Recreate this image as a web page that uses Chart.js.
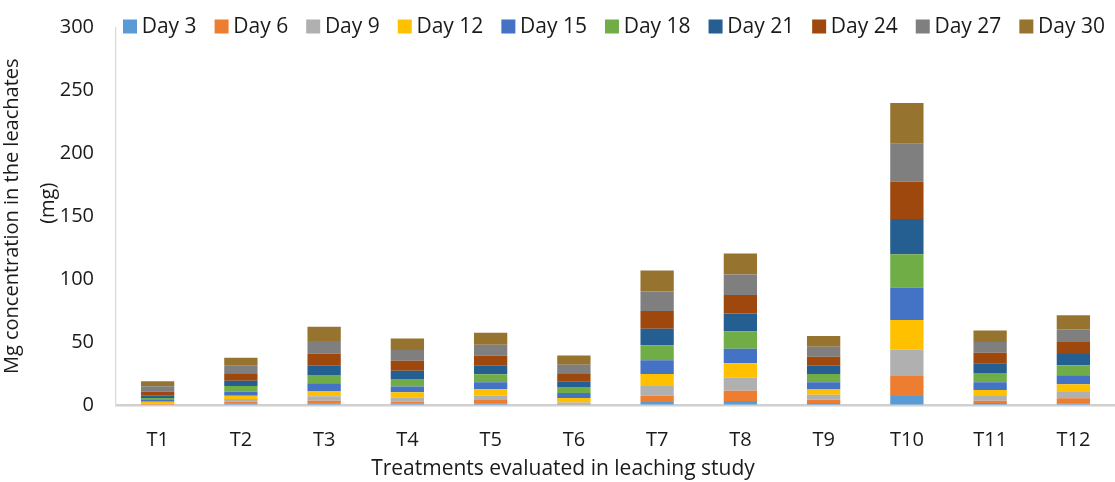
<!DOCTYPE html>
<html>
<head>
<meta charset="utf-8">
<script src="https://cdn.jsdelivr.net/npm/chart.js@4"></script>
<style>
  html, body { margin: 0; padding: 0; background: #fff; }
  #wrap { width: 1115px; height: 482px; }
</style>
</head>
<body>
<div id="wrap"><canvas id="canvas" width="1115" height="482"></canvas></div>
<script>
// data (mg per sampling day)
var treatments = ["T1", "T2", "T3", "T4", "T5", "T6", "T7", "T8", "T9", "T10", "T11", "T12"];
var dayLabels = ["Day 3", "Day 6", "Day 9", "Day 12", "Day 15", "Day 18", "Day 21", "Day 24", "Day 27", "Day 30"];

var day3  = [0.4, 1.3, 1.3, 1.0, 1.3, 0.5, 2.4, 3.2, 1.6, 7.1, 1.6, 1.3];
var day6  = [0.5, 1.3, 2.1, 1.6, 2.7, 0.6, 5.0, 8.1, 2.6, 15.9, 1.8, 4.0];
var day9  = [0.5, 2.2, 3.5, 3.2, 3.4, 0.8, 7.7, 10.4, 4.0, 21.2, 3.7, 5.0];
var day12 = [1.2, 2.6, 4.2, 4.3, 5.1, 3.7, 9.5, 11.4, 4.5, 23.3, 4.8, 6.1];
var day15 = [1.3, 3.2, 6.1, 4.7, 5.5, 4.0, 10.9, 11.6, 5.3, 25.9, 6.1, 7.2];
var day18 = [1.7, 4.5, 6.6, 5.8, 6.4, 4.8, 11.9, 14.0, 6.6, 26.4, 7.4, 7.9];
var day21 = [1.8, 4.2, 7.4, 6.6, 6.8, 4.5, 13.2, 14.1, 6.6, 28.1, 7.7, 9.0];
var day24 = [3.3, 5.9, 9.8, 8.0, 7.9, 6.4, 14.2, 14.7, 7.1, 29.6, 8.4, 9.5];
var day27 = [4.2, 6.0, 9.8, 8.5, 8.8, 6.6, 15.4, 16.2, 8.0, 30.2, 8.5, 10.1];
var day30 = [4.0, 6.3, 11.3, 9.2, 9.5, 7.4, 16.7, 16.7, 8.5, 32.3, 9.3, 11.3];

var yTicks = [0, 50, 100, 150, 200, 250, 300];

var seriesValues = [day3, day6, day9, day12, day15, day18, day21, day24, day27, day30];
var seriesColors = ['#5B9BD5', '#ED7D31', '#B0B0B0', '#FFC000', '#4472C4',
                    '#70AD47', '#255E91', '#9E480E', '#7F7F7F', '#967430'];

var FONT = "'Open Sans', sans-serif";
var TEXT = '#1a1a1a';

// legend drawn on top of the plot area, like the original
var topLegend = {
    id: 'topLegend',
    afterDraw: function (chart) {
        var ctx = chart.ctx;
        var x = 123, y = 26.5, box = 14;
        ctx.save();
        ctx.font = '21px ' + FONT;
        ctx.textBaseline = 'middle';
        ctx.textAlign = 'left';
        chart.data.datasets.forEach(function (ds) {
            ctx.fillStyle = ds.backgroundColor;
            ctx.fillRect(x, y - box / 2, box, box);
            ctx.fillStyle = TEXT;
            ctx.fillText(ds.label, x + box + 4.7, y + 1);
            x += box + 4.7 + ctx.measureText(ds.label).width + 18;
        });
        ctx.restore();
    }
};

document.addEventListener('DOMContentLoaded', function () {
    var canvas = document.getElementById('canvas');

    var datasets = dayLabels.map(function (lbl, i) {
        return {
            label: lbl,
            data: seriesValues[i],
            backgroundColor: seriesColors[i],
            borderWidth: 0,
            barPercentage: 0.4,
            categoryPercentage: 1.0
        };
    });

    var config = {
        type: 'bar',
        data: {
            labels: treatments,
            datasets: datasets
        },
        options: {
            responsive: false,
            animation: false,
            layout: {
                padding: { top: 27.5, left: 0, right: 0, bottom: 0 }
            },
            plugins: {
                legend: { display: false },
                tooltip: { enabled: false },
                title: {
                    display: true,
                    position: 'bottom',
                    text: '  Treatments evaluated in leaching study',
                    color: TEXT,
                    font: { family: FONT, size: 21, weight: 'normal', lineHeight: 1.2 },
                    padding: { top: 4.8, bottom: 0 }
                }
            },
            scales: {
                x: {
                    stacked: true,
                    grid: { drawOnChartArea: false, drawTicks: false },
                    border: { display: true, color: '#d0d0d0', width: 2.5 },
                    afterFit: function (scale) { scale.height = 47; },
                    ticks: {
                        color: TEXT,
                        padding: 23,
                        font: { family: FONT, size: 20, lineHeight: 1.2 }
                    }
                },
                y: {
                    stacked: true,
                    min: 0,
                    max: 300,
                    grid: { drawOnChartArea: false, drawTicks: false },
                    border: { display: true, color: '#d9d9d9', width: 1.3 },
                    afterFit: function (scale) {
                        scale.width = 116;
                        scale.paddingTop = 0;
                        scale.paddingBottom = 0;
                    },
                    afterBuildTicks: function (scale) {
                        scale.ticks = yTicks.map(function (v) { return { value: v }; });
                    },
                    ticks: {
                        color: TEXT,
                        padding: 22,
                        font: { family: FONT, size: 20, lineHeight: 1.2 }
                    },
                    title: {
                        display: true,
                        text: ['Mg concentration in the leachates', '     (mg)'],
                        color: TEXT,
                        font: { family: FONT, size: 20, lineHeight: 1.8 },
                        padding: { top: -5.5, bottom: 0 }
                    }
                }
            }
        },
        plugins: [topLegend]
    };

    window.chart = new Chart(canvas, config);
});
</script>
</body>
</html>
